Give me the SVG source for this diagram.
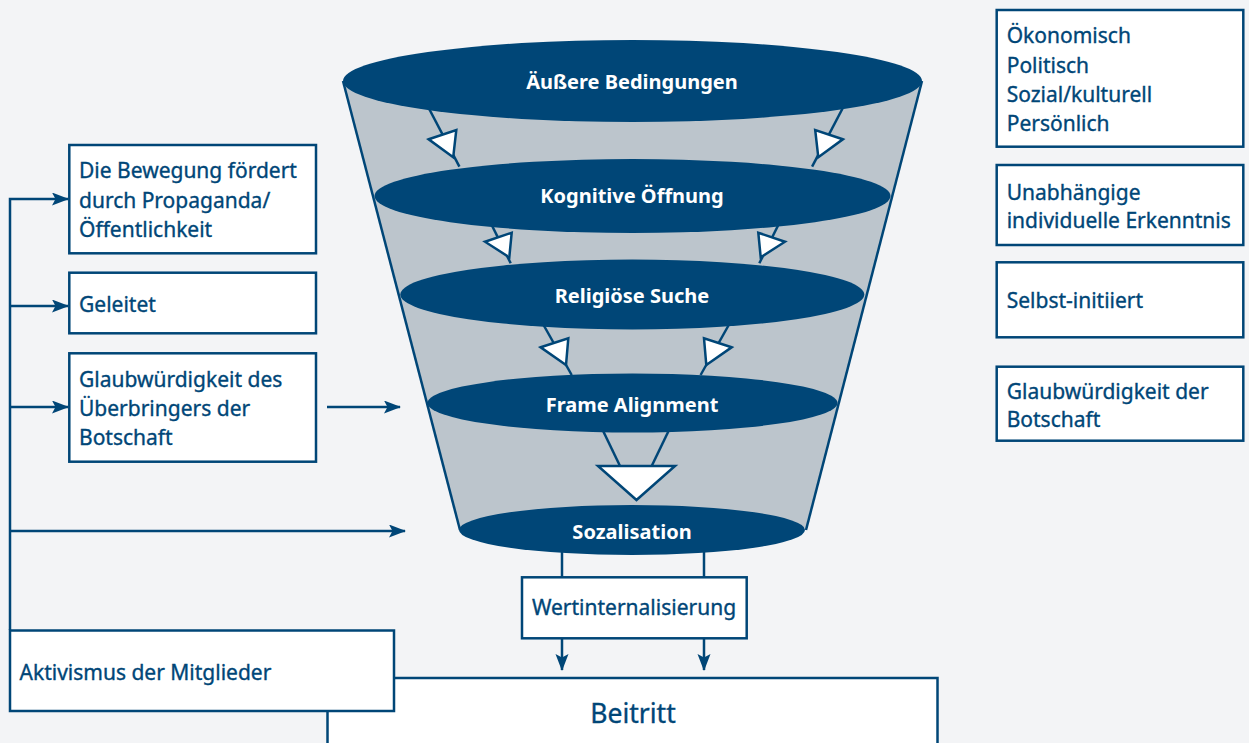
<svg xmlns="http://www.w3.org/2000/svg" width="1249" height="743" viewBox="0 0 1249 743">
<defs>
<style>
.bg{fill:#f3f4f6}
.box{fill:#ffffff;stroke:#004677;stroke-width:2.5}
.el{fill:#004677}
.lbl{font-family:"Noto Sans","Open Sans",sans-serif;font-size:21px;fill:#004677;stroke:#004677;stroke-width:0.35}
.elt{font-family:"Noto Sans","Open Sans",sans-serif;font-size:20px;font-weight:bold;fill:#ffffff;text-anchor:middle}
.ln{stroke:#004677;stroke-width:2.5;fill:none}
.tri{fill:#ffffff;stroke:#004677;stroke-width:2.5;stroke-linejoin:miter}
</style>
<marker id="ah" markerUnits="userSpaceOnUse" markerWidth="18" markerHeight="14" refX="16" refY="6.5" orient="auto">
<path d="M0,0 L17,6.5 L0,13 L3.5,6.5 z" fill="#004677"/>
</marker>
</defs>
<rect class="bg" x="0" y="0" width="1249" height="743"/>

<g id="funnel-body">
<polygon points="343,81 922,81 806,530 460,530" fill="#bcc5cc"/>
<line class="ln" x1="343" y1="81" x2="460" y2="530"/>
<line class="ln" x1="922" y1="81" x2="806" y2="530"/>
</g>

<g id="connectors">
<line class="ln" x1="428.7" y1="108" x2="459.4" y2="166.7"/>
<polygon class="tri" points="428.7,139.3 456.3,130 453.2,157.3"/>
<line class="ln" x1="842.8" y1="108" x2="812.1" y2="166.7"/>
<polygon class="tri" points="842.8,139.3 815.2,130 818.3,157.3"/>

<line class="ln" x1="491.7" y1="225" x2="510.7" y2="263.3"/>
<polygon class="tri" points="485,241.7 511.7,232.7 509.3,257.3"/>
<line class="ln" x1="778.3" y1="225" x2="759.3" y2="263.3"/>
<polygon class="tri" points="785,241.7 758.3,232.7 760.7,257.3"/>

<line class="ln" x1="543" y1="324" x2="571.7" y2="375"/>
<polygon class="tri" points="540.7,347.3 568.3,338.3 566,365"/>
<line class="ln" x1="729.3" y1="324" x2="700.6" y2="375"/>
<polygon class="tri" points="731.6,347.3 704,338.3 706.3,365"/>

<line class="ln" x1="601.7" y1="428" x2="620" y2="466"/>
<line class="ln" x1="670" y1="428" x2="651.7" y2="466"/>
<polygon class="tri" points="598,466 675,466 636.5,500"/>

<line class="ln" x1="562" y1="550" x2="562" y2="577"/>
<line class="ln" x1="704" y1="550" x2="704" y2="577"/>
<line class="ln" x1="562" y1="638" x2="562" y2="670" marker-end="url(#ah)"/>
<line class="ln" x1="704" y1="638" x2="704" y2="670" marker-end="url(#ah)"/>

<polyline class="ln" points="10,630 10,199 68,199" marker-end="url(#ah)"/>
<line class="ln" x1="10" y1="306" x2="68" y2="306" marker-end="url(#ah)"/>
<line class="ln" x1="10" y1="407" x2="68" y2="407" marker-end="url(#ah)"/>
<line class="ln" x1="10" y1="531" x2="405" y2="531" marker-end="url(#ah)"/>
<line class="ln" x1="327" y1="407" x2="400" y2="407" marker-end="url(#ah)"/>
</g>

<g id="n-aeussere">
<ellipse class="el" cx="632.5" cy="81" rx="289.5" ry="41"/>
<text class="elt" x="632" y="89">Äußere Bedingungen</text>
</g>
<g id="n-kognitive">
<ellipse class="el" cx="632.5" cy="196" rx="258" ry="37"/>
<text class="elt" x="632" y="203">Kognitive Öffnung</text>
</g>
<g id="n-religioese">
<ellipse class="el" cx="632.3" cy="294.5" rx="232" ry="35"/>
<text class="elt" x="632" y="303">Religiöse Suche</text>
</g>
<g id="n-frame">
<ellipse class="el" cx="632.5" cy="403" rx="205" ry="29.5"/>
<text class="elt" x="632" y="412">Frame Alignment</text>
</g>
<g id="n-sozalisation">
<ellipse class="el" cx="632" cy="530" rx="173" ry="25"/>
<text class="elt" x="632" y="539">Sozalisation</text>
</g>

<g id="n-bewegung">
<rect class="box" x="69.3" y="145" width="246.7" height="108.3"/>
<text class="lbl" x="79" y="178.3">Die Bewegung fördert</text>
<text class="lbl" x="79" y="208.3">durch Propaganda/</text>
<text class="lbl" x="79" y="237.3">Öffentlichkeit</text>
</g>
<g id="n-geleitet">
<rect class="box" x="69.3" y="272.7" width="246.7" height="60.6"/>
<text class="lbl" x="79" y="311.7">Geleitet</text>
</g>
<g id="n-glaub-ueberbringer">
<rect class="box" x="69.3" y="353.3" width="246.7" height="108.4"/>
<text class="lbl" x="79" y="386.7">Glaubwürdigkeit des</text>
<text class="lbl" x="79" y="416">Überbringers der</text>
<text class="lbl" x="79" y="445">Botschaft</text>
</g>

<g id="n-oekonomisch">
<rect class="box" x="996.7" y="10" width="246.6" height="136.7"/>
<text class="lbl" x="1006.7" y="43.3">Ökonomisch</text>
<text class="lbl" x="1006.7" y="72.7">Politisch</text>
<text class="lbl" x="1006.7" y="101.7">Sozial/kulturell</text>
<text class="lbl" x="1006.7" y="131">Persönlich</text>
</g>
<g id="n-unabhaengig">
<rect class="box" x="996.7" y="165" width="246.6" height="80"/>
<text class="lbl" x="1006.7" y="200">Unabhängige</text>
<text class="lbl" x="1006.7" y="228.3">individuelle Erkenntnis</text>
</g>
<g id="n-selbst">
<rect class="box" x="996.7" y="262.3" width="246.6" height="75"/>
<text class="lbl" x="1006.7" y="308.3">Selbst-initiiert</text>
</g>
<g id="n-glaub-botschaft">
<rect class="box" x="996.7" y="366.7" width="246.6" height="74"/>
<text class="lbl" x="1006.7" y="399">Glaubwürdigkeit der</text>
<text class="lbl" x="1006.7" y="426.7">Botschaft</text>
</g>

<g id="n-wertinternalisierung">
<rect class="box" x="522" y="577.3" width="224.7" height="61"/>
<text class="lbl" x="634" y="615" text-anchor="middle">Wertinternalisierung</text>
</g>
<g id="n-beitritt">
<rect class="box" x="327.5" y="678" width="610" height="80"/>
<text class="lbl" x="633" y="722.7" text-anchor="middle" style="font-size:26.5px">Beitritt</text>
</g>
<g id="n-aktivismus">
<rect class="box" x="10" y="630.5" width="384" height="80.5"/>
<text class="lbl" x="19.5" y="680">Aktivismus der Mitglieder</text>
</g>
</svg>
